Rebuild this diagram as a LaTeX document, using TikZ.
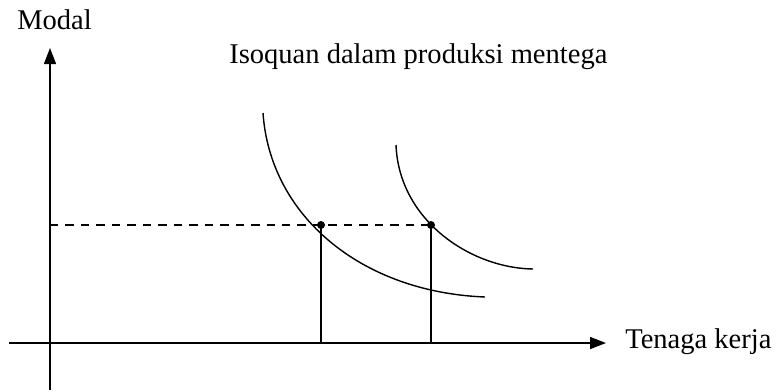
\documentclass[tikz,border=0pt]{standalone}
\usepackage{fontspec}
\setmainfont{Liberation Serif}
\usetikzlibrary{arrows.meta,positioning}

\begin{document}
\begin{tikzpicture}[
  x=0.025cm, y=-0.025cm,
  font=\fontsize{20.3}{24}\selectfont,
  axis/.style={line width=1pt,-{Triangle[length=0.4cm,width=0.3cm]}},
  iso/.style={line width=1pt},
  guide/.style={line width=1pt,dash pattern=on 6pt off 5pt},
  drop/.style={line width=1pt},
  pt/.style={circle,fill=black,inner sep=0pt,minimum size=0.2cm},
  lbl/.style={inner sep=0pt}
]
\useasboundingbox (0,0) rectangle (780,391);

% ---- axes ----
\coordinate (ybot) at (50,390);
\coordinate (ytop) at (50,48);
\coordinate (xleft) at (9,343);
\coordinate (xright) at (606,343);
\draw[axis] (ybot) -- (ytop);
\draw[axis] (xleft) -- (xright);
\node[lbl,anchor=base west] (ylab) at (17,29) {Modal};
\node[lbl,anchor=west] (xlab) at (625,342) {Tenaga kerja};
\node[lbl,anchor=base west] (title) at (229,63) {Isoquan dalam produksi mentega};

% ---- isoquants ----
\coordinate (q1a) at (263,113);
\coordinate (q1b) at (485,297);
\coordinate (q2a) at (396,145);
\coordinate (q2b) at (533,269);
\draw[iso] (q1a) .. controls (270,215) and (360,292) .. (q1b);
\draw[iso] (q2a) .. controls (399,220) and (470,268) .. (q2b);

% ---- points ----
\node[pt] (p1) at (321,225) {};
\node[pt] (p2) at (431,225) {};
\coordinate (k0) at (50,225);
\coordinate (l1) at (321,343);
\coordinate (l2) at (431,343);
\draw[guide] (k0) -- (p2.center);
\draw[drop] (p1.center) -- (l1);
\draw[drop] (p2.center) -- (l2);

\end{tikzpicture}
\end{document}
